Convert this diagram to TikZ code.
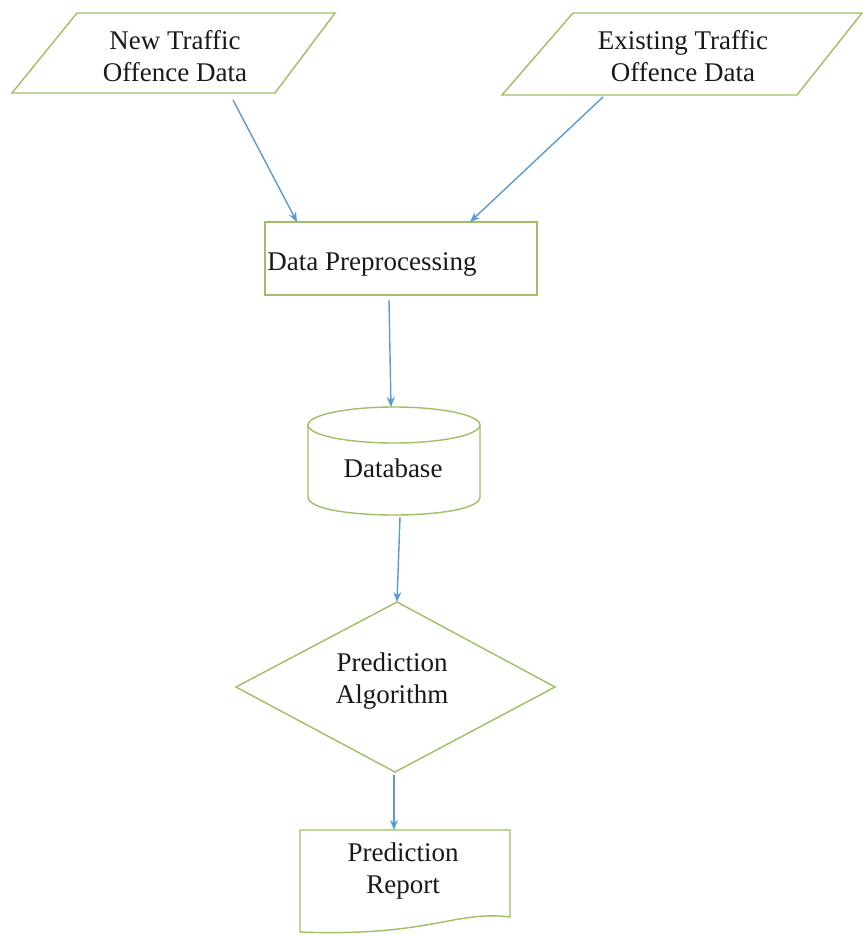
\documentclass[tikz,border=0pt]{standalone}
\usepackage{fontspec}
\setmainfont{Liberation Serif}
\usetikzlibrary{arrows.meta}
\definecolor{boxgreen}{RGB}{160,190,100}
\definecolor{arrowblue}{RGB}{91,155,213}
\begin{document}
\begin{tikzpicture}[x=1pt,y=-1pt,
  outline/.style={draw=boxgreen,line width=1.4pt,line join=miter},
  label/.style={font=\fontsize{27}{32}\selectfont,align=center,text=black!90,inner sep=0pt},
  conn/.style={draw=arrowblue,line width=1.4pt,-{Stealth[length=10pt,width=8pt]}}]
\useasboundingbox (0,0) rectangle (862,936);
\fill[white] (0,0) rectangle (862,936);
% shapes
\draw[outline] (77,13) -- (335,13) -- (275,93) -- (12,93) -- cycle;
\draw[outline] (573,13) -- (862,13) -- (797,95) -- (502,95) -- cycle;
\draw[outline] (265,222) rectangle (537,295);
\draw[outline] (394,425) ellipse [x radius=86, y radius=18];
\draw[outline] (308,425) -- (308,497) .. controls (308,521) and (480,521) .. (480,497) -- (480,425);
\draw[outline] (397,602) -- (555,687) -- (395,772) -- (236,687) -- cycle;
\draw[outline] (300,932) -- (300,830) -- (510,830) -- (510,917) .. controls (455,910) and (430,937) .. (300,932);
% texts
\node[label] (newdata) at (175,56) {New Traffic\\Offence Data};
\node[label] (olddata) at (683,56) {Existing Traffic\\Offence Data};
\node[label] (prep) at (372,264) {Data Preprocessing};
\node[label] (db) at (393,468) {Database};
\node[label] (algo) at (392,681) {Prediction\\Algorithm};
\node[label] (report) at (403,871) {Prediction\\Report};
% connector end points
\coordinate (a1s) at (233,100);
\coordinate (a1e) at (297,222);
\coordinate (a2s) at (603,97);
\coordinate (a2e) at (470,222);
\coordinate (a3s) at (389,300);
\coordinate (a3e) at (391,407);
\coordinate (a4s) at (400,517);
\coordinate (a4e) at (397,602);
\coordinate (a5s) at (394,775);
\coordinate (a5e) at (394,830);
\draw[conn] (a1s) -- (a1e);
\draw[conn] (a2s) -- (a2e);
\draw[conn] (a3s) -- (a3e);
\draw[conn] (a4s) -- (a4e);
\draw[conn] (a5s) -- (a5e);
\end{tikzpicture}
\end{document}
